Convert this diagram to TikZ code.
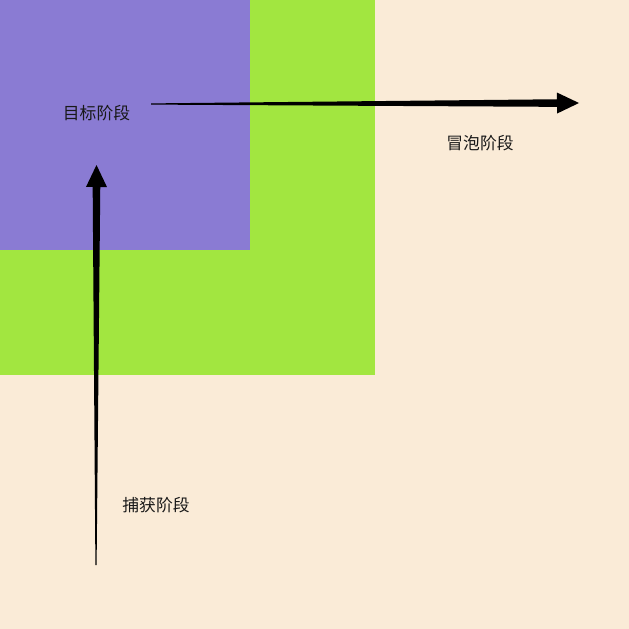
\documentclass[tikz,border=0pt]{standalone}
\usepackage{fontspec}
\setmainfont{Noto Sans CJK SC}
\usepackage{tikz}
\usetikzlibrary{calc}

\definecolor{bgbeige}{HTML}{FAEBD7}
\definecolor{outergreen}{HTML}{A2E640}
\definecolor{innerpurple}{HTML}{8A7BD3}

\tikzset{
	phase/.style={text=black!90, font=\fontsize{16.8}{20}\selectfont, inner sep=0pt},
}

\newcommand{\taperarrow}[2]{%
	\coordinate (hb) at ($(#2)!22pt!(#1)$);
	\fill[black] ($(#1)!0.6pt!90:(#2)$) -- ($(hb)!3.8pt!90:(#2)$) -- ($(hb)!10.5pt!90:(#2)$) -- (#2)
		-- ($(hb)!10.5pt!-90:(#2)$) -- ($(hb)!3.8pt!-90:(#2)$) -- ($(#1)!0.6pt!-90:(#2)$) -- cycle;%
}

\begin{document}
\begin{tikzpicture}[x=1pt,y=-1pt]
	%\draw[help lines] (0,0) grid (629,629);
	\useasboundingbox (0,0) rectangle (629,629);
	\fill[bgbeige] (0,0) rectangle (629,629);
	\fill[outergreen] (0,0) rectangle (375,375);
	\fill[innerpurple] (0,0) rectangle (250,250);

	\node[phase] (target) at (96.5,113) {目标阶段};
	\node[phase] (bubble) at (480,143) {冒泡阶段};
	\node[phase] (capture) at (156,505) {捕获阶段};

	\coordinate (bubS) at (151,104);
	\coordinate (bubE) at (579,103);
	\coordinate (capS) at (96,565);
	\coordinate (capE) at (96.5,165);

	\taperarrow{bubS}{bubE}
	\taperarrow{capS}{capE}

\end{tikzpicture}
\end{document}
